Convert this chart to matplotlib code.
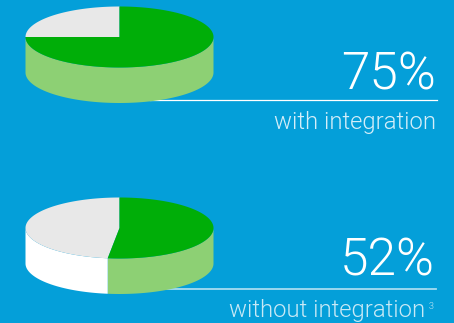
#! /usr/bin/env python

import matplotlib.pyplot as plt
import numpy as np
from matplotlib.patches import Polygon

plt.rcParams['font.family'] = ['Roboto', 'DejaVu Sans']

shares = [75, 52]
big_labels = ['75%', '52%']
small_labels = ['with integration', 'without integration']

BG = '#049fd9'
GREEN = '#00ae08'
GREEN_SIDE = '#8dd074'
GREY = '#e8e8e8'
WHITE = '#ffffff'

W, H = 454, 323


def rim(cx, cy, rx, ry, t0, t1):
    # t runs clockwise from twelve o'clock, in degrees
    t = np.radians(np.linspace(t0, t1, 200))
    return np.column_stack((cx + rx*np.sin(t), cy - ry*np.cos(t)))


def disc(ax, share, cx, cy, rx=94, ry=30.5, depth=35.5):
    cut = 360.0*share/100

    # front wall, only the part between 3 and 9 o'clock shows
    front = rim(cx, cy, rx, ry, 90, min(cut, 270))
    wall = np.vstack((front, front[::-1] + [0, depth]))
    ax.add_patch(Polygon(wall, fc=GREEN_SIDE, ec='none', zorder=3))
    if cut < 270:
        rest = rim(cx, cy, rx, ry, cut, 270)
        wall = np.vstack((rest, rest[::-1] + [0, depth]))
        ax.add_patch(Polygon(wall, fc=WHITE, ec='none', zorder=3))

    # top face
    on = np.vstack(([[cx, cy]], rim(cx, cy, rx, ry, 0, cut)))
    off = np.vstack(([[cx, cy]], rim(cx, cy, rx, ry, cut, 360)))
    ax.add_patch(Polygon(off, fc=GREY, ec='none', zorder=4))
    ax.add_patch(Polygon(on, fc=GREEN, ec='none', zorder=4))


fig = plt.figure(figsize=(W/100, H/100), dpi=100, facecolor=BG)
ax = fig.add_axes([0, 0, 1, 1])
ax.set_xlim(0, W)
ax.set_ylim(H, 0)
ax.axis('off')

disc(ax, shares[0], 119.5, 37)
disc(ax, shares[1], 119.5, 228)

ax.plot([150, 437], [100, 100], color='white', lw=0.9, zorder=2)
ax.plot([150, 436], [289, 289], color='#a6dcf1', lw=1.3, zorder=2)

ax.text(436, 89, big_labels[0], color='white', fontsize=37, fontweight=300,
        ha='right', va='baseline')
ax.text(436, 129, small_labels[0], color='#d4eef9', fontsize=17.2,
        fontweight=300, ha='right', va='baseline')

ax.text(435, 276, big_labels[1], color='white', fontsize=37, fontweight=300,
        ha='right', va='baseline')
ax.text(425, 317, small_labels[1], color='#c8e9f6', fontsize=17.2,
        fontweight=300, ha='right', va='baseline')
ax.text(429, 309, '3', color='#c8e9f6', fontsize=6.5, fontweight=300,
        ha='left', va='baseline')

fig.savefig('out.png', dpi=100, facecolor=BG)
